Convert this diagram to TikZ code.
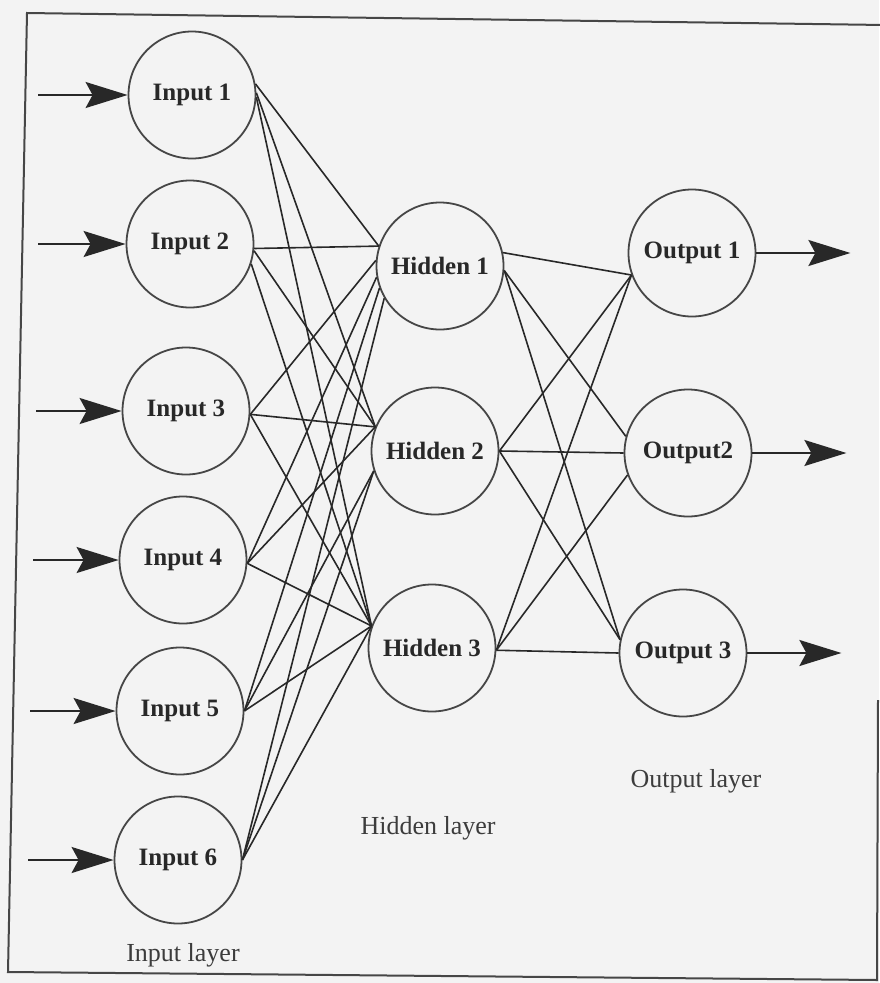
\documentclass[tikz,border=0pt]{standalone}
\usepackage{fontspec}
\setmainfont{Liberation Serif}
\usetikzlibrary{arrows.meta,calc}

\definecolor{paper}{RGB}{243,243,243}
\definecolor{ink}{RGB}{40,40,40}
\definecolor{rim}{RGB}{70,70,70}
\definecolor{labelgray}{RGB}{60,60,60}

\tikzset{
  neuron/.style={circle, draw=rim, line width=1.8pt, minimum size=127pt,
                 inner sep=0pt, text=ink,
                 font=\fontsize{25}{25}\selectfont\bfseries},
  link/.style={draw=ink, line width=1.6pt},
  signal/.style={draw=ink, line width=2pt,
                 -{Stealth[length=42pt,width=26pt,inset=7pt]}},
  layername/.style={text=labelgray, font=\fontsize{26}{26}\selectfont},
  frameline/.style={draw=rim, line width=2pt}
}

\begin{document}
\begin{tikzpicture}[x=1pt, y=-1pt]
  % page and slightly skewed frame
  \fill[paper] (0,0) rectangle (879,983);
  \useasboundingbox (0,0) rectangle (879,983);
  \draw[frameline] (884,25) -- (27,13) -- (8,972) -- (877,980) -- (878,700);

  % input layer
  \node[neuron] (I1) at (192,95)  {Input 1};
  \node[neuron] (I2) at (190,244) {Input 2};
  \node[neuron] (I3) at (186,411) {Input 3};
  \node[neuron] (I4) at (183,560) {Input 4};
  \node[neuron] (I5) at (180,711) {Input 5};
  \node[neuron] (I6) at (178,860) {Input 6};

  % hidden layer
  \node[neuron] (H1) at (440,266) {Hidden 1};
  \node[neuron] (H2) at (435,451) {Hidden 2};
  \node[neuron] (H3) at (432,648) {Hidden 3};

  % output layer
  \node[neuron] (O1) at (692,253) {Output 1};
  \node[neuron] (O2) at (688,453) {Output2};
  \node[neuron] (O3) at (683,653) {Output 3};

  % layer captions
  \node[layername] (capI) at (183,955) {Input layer};
  \node[layername] (capH) at (428,828) {Hidden layer};
  \node[layername] (capO) at (696,781) {Output layer};

  % incoming signals
  \coordinate (s1) at (38,95);
  \coordinate (s2) at (38,244);
  \coordinate (s3) at (36,411);
  \coordinate (s4) at (33,560);
  \coordinate (s5) at (30,711);
  \coordinate (s6) at (28,860);
  \foreach \i in {1,...,6} {
    \draw[signal] (s\i) -- (I\i.west);
  }

  % outgoing signals
  \coordinate (t1) at ($(O1.east)+(94,0)$);
  \coordinate (t2) at ($(O2.east)+(94,0)$);
  \coordinate (t3) at ($(O3.east)+(94,0)$);
  \foreach \k in {1,2,3} {
    \draw[signal] (O\k.east) -- (t\k);
  }

  % input -> hidden weights
  \draw[link] (I1.10)  -- (H1.162);
  \draw[link] (I1.2)   -- (H2.158);
  \draw[link] (I1.-2)  -- (H3.160);

  \draw[link] (I2.-4)  -- (H1.162);
  \draw[link] (I2.-6)  -- (H2.158);
  \draw[link] (I2.-18) -- (H3.160);

  \draw[link] (I3.-3)  -- (H1.175);
  \draw[link] (I3.-3)  -- (H2.158);
  \draw[link] (I3.-3)  -- (H3.160);

  \draw[link] (I4.-3)  -- (H1.190);
  \draw[link] (I4.-3)  -- (H2.158);
  \draw[link] (I4.-3)  -- (H3.160);

  \draw[link] (I5.0)   -- (H1.200);
  \draw[link] (I5.0)   -- (H2.198);
  \draw[link] (I5.0)   -- (H3.160);

  \draw[link] (I6.0)   -- (H1.210);
  \draw[link] (I6.0)   -- (H2.198);
  \draw[link] (I6.0)   -- (H3.160);

  % hidden -> output weights
  \draw[link] (H1.12)  -- (O1.200);
  \draw[link] (H1.-4)  -- (O2.165);
  \draw[link] (H1.-4)  -- (O3.168);

  \draw[link] (H2.0)   -- (O1.200);
  \draw[link] (H2.0)   -- (O2.180);
  \draw[link] (H2.0)   -- (O3.168);

  \draw[link] (H3.-2)  -- (O1.200);
  \draw[link] (H3.-2)  -- (O2.200);
  \draw[link] (H3.-2)  -- (O3.180);
\end{tikzpicture}
\end{document}
